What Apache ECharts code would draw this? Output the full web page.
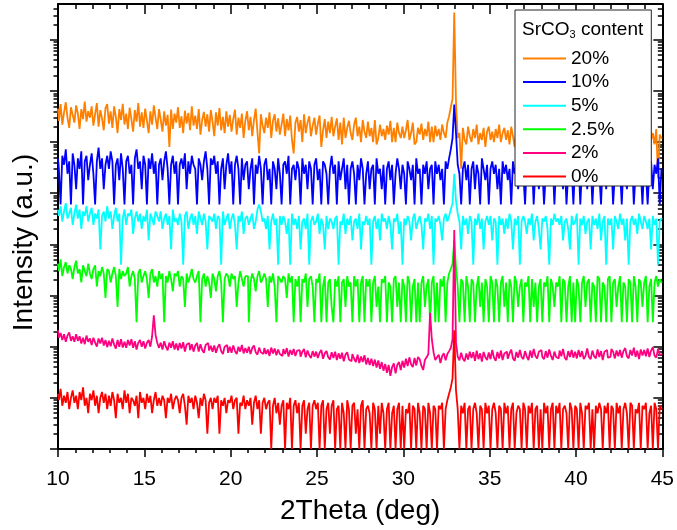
<!DOCTYPE html>
<html>
<head>
<meta charset="utf-8">
<script src="https://cdn.jsdelivr.net/npm/echarts@6/dist/echarts.min.js"></script>
<style>
html, body { margin: 0; padding: 0; background: #fff; }
#chart { width: 677px; height: 530px; }
</style>
</head>
<body>
<div id="chart"></div>
<script>
// XRD patterns, 2θ = 10.0° … 45.0° in 0.1° steps
const angleStart = 10;
const angleStep = 0.1;

const seriesNames = ['20%', '10%', '5%', '2.5%', '2%', '0%'];
const seriesColors = ['#FF8000', '#0000FF', '#00FFFF', '#00FF00', '#FF0080', '#FF0000'];
// vertical offset factors used to stack the patterns on the log scale
const offsets = [1e5, 6e4, 4e3, 300, 1, 1];

const counts20 = [
  45,26,55,22,38,60,30,19,48,34,
  24,52,36,18,44,28,62,25,40,30,
  50,21,35,58,20,42,29,17,46,55,
  23,40,19,50,31,15,44,27,56,22,
  36,18,47,28,16,42,25,58,20,38,
  19,45,26,15,40,22,52,30,18,44,
  27,16,40,21,34,8,43,18,36,24,
  48,19,32,15,41,23,37,17,50,21,
  33,18,44,14,27,39,20,35,16,42,
  25,13,38,21,46,17,31,15,40,20,
  34,16,28,43,14,30,19,36,12,26,
  40,17,31,13,27,45,16,6,35,21,
  15,30,19,38,12,26,35,16,29,14,
  22,36,13,28,17,33,11,6,24,31,
  16,27,10,35,15,24,32,13,21,30,
  14,23,33,8,17,28,12,25,15,31,
  13,20,29,11,24,9,30,12,19,26,
  15,11,22,30,13,20,10,27,16,12,
  25,13,19,10,27,9,12,22,13,18,
  11,21,14,26,10,19,10,24,15,12,
  20,12,17,27,11,15,24,9,10,19,
  14,23,11,18,13,25,10,20,10,21,
  13,18,11,22,15,12,24,32,48,70,
  3400,60,12,15,3,19,11,9,20,13,
  10,18,12,22,9,15,11,19,8,16,
  20,11,16,10,18,12,22,10,15,19,
  11,17,9,20,13,8,18,11,21,10,
  15,9,19,12,22,10,16,9,13,20,
  10,17,12,8,19,13,9,20,11,16,
  9,19,13,8,21,10,15,11,17,9,
  13,20,10,16,9,18,12,17,9,21,
  12,9,17,11,20,13,10,19,12,16,
  18,10,14,9,17,12,21,10,15,8,
  13,20,10,16,12,9,19,11,17,14,
  10,17,12,20,11,15,9,18,2,14,
  12
];

const counts10 = [
  8,5,1,9,6,12,4,7,1,10,
  6,2,8,5,11,1,7,9,3,6,
  10,4,1,7,13,5,8,2,6,9,
  5,11,7,1,6,8,3,10,5,1,
  7,9,4,6,1,8,12,5,7,2,
  9,6,1,8,5,10,4,7,1,6,
  8,3,7,11,5,1,6,9,4,7,
  1,6,8,5,10,2,7,4,9,6,
  5,1,8,6,3,7,11,5,1,8,
  6,9,4,7,1,5,8,2,6,10,
  4,7,1,6,9,5,1,8,3,6,
  7,2,5,8,1,6,4,9,5,1,
  6,8,3,5,1,7,5,2,8,4,
  1,6,7,4,9,1,5,6,3,7,
  5,1,8,4,6,2,7,5,1,6,
  8,3,5,1,7,6,4,1,5,9,
  4,6,1,7,3,5,8,2,6,1,
  5,7,4,1,6,3,8,5,1,4,
  7,2,5,6,1,8,4,5,2,6,
  1,5,7,3,6,1,4,8,5,2,
  6,4,1,7,5,3,6,1,8,4,
  5,1,6,4,7,2,5,6,1,7,
  4,6,3,5,1,7,5,8,12,20,
  90,25,6,4,1,5,7,3,6,1,
  5,7,2,6,4,1,8,5,3,6,
  1,5,7,4,6,2,5,1,7,4,
  6,3,5,1,7,4,6,2,5,8,
  4,1,6,5,3,7,1,5,6,2,
  7,5,1,4,6,3,5,7,1,6,
  3,6,5,2,7,1,4,6,5,1,
  6,4,7,1,5,3,6,2,5,7,
  1,5,3,6,4,1,7,5,2,6,
  5,7,1,4,6,3,5,1,6,4,
  2,6,5,7,1,4,6,3,5,1,
  6,4,1,5,7,2,6,4,8,1,
  5
];

const counts5 = [
  12,9,14,7,11,16,8,10,13,6,
  10,15,8,12,5,11,9,14,7,10,
  13,6,10,8,12,2,9,11,7,14,
  8,11,5,9,13,7,10,1,8,12,
  6,10,9,12,4,8,11,7,10,5,
  9,7,12,3,10,8,6,11,9,7,
  11,5,8,10,6,9,2,12,7,8,
  6,10,7,1,9,11,5,8,10,6,
  9,4,11,8,6,10,7,2,9,8,
  7,10,5,9,8,1,11,6,8,10,
  5,8,10,6,2,9,7,11,4,8,
  9,6,8,10,5,7,12,15,11,7,
  8,5,9,2,7,10,6,8,1,9,
  6,9,7,4,8,1,10,6,8,5,
  9,2,7,8,5,10,1,7,9,6,
  7,10,4,8,6,2,9,5,8,7,
  5,8,9,1,7,6,10,4,8,6,
  9,3,7,8,5,10,2,7,6,9,
  6,8,1,7,9,5,8,3,10,7,
  8,5,9,6,2,8,7,10,4,7,
  1,8,6,9,7,3,8,10,5,7,
  9,6,2,8,7,10,5,9,1,8,
  7,9,6,3,8,10,7,9,12,16,
  60,18,10,7,2,9,6,8,4,9,
  7,1,8,6,10,5,8,2,7,9,
  6,9,3,8,7,1,9,6,8,4,
  8,5,10,7,2,8,6,9,1,7,
  9,7,4,8,6,10,3,7,9,5,
  2,8,7,9,5,1,8,6,10,7,
  8,6,9,3,7,8,5,2,9,6,
  7,10,1,8,6,9,4,7,8,2,
  9,6,8,5,10,3,7,9,1,8,
  6,8,2,9,7,5,10,6,8,3,
  8,1,7,9,6,8,4,10,7,5,
  9,7,5,8,2,9,6,8,1,7,
  8
];

const counts2_5 = [
  14,10,17,8,12,15,9,13,11,7,
  12,16,9,11,6,13,10,8,14,9,
  7,11,13,5,10,8,12,9,3,11,
  10,6,9,12,8,2,11,7,10,8,
  9,12,5,8,10,7,1,9,11,6,
  8,10,7,3,9,11,6,8,5,10,
  7,9,1,8,6,10,7,4,9,8,
  10,5,8,7,2,9,6,8,11,7,
  6,8,10,1,7,9,5,8,6,3,
  9,7,4,8,10,6,1,7,9,8,
  5,9,7,8,2,6,10,7,5,8,
  8,1,6,9,7,4,8,10,6,7,
  9,7,2,8,6,9,5,1,8,7,
  6,8,7,3,9,6,8,1,7,5,
  8,1,7,6,9,2,7,8,5,1,
  7,6,9,1,5,8,1,6,7,2,
  1,7,5,8,1,6,7,2,8,5,
  6,1,8,5,7,1,6,8,1,7,
  5,7,1,6,8,2,5,1,7,6,
  8,1,6,5,1,7,8,2,6,1,
  7,5,1,8,6,1,5,7,1,6,
  1,6,8,2,5,7,1,6,8,1,
  6,1,7,5,8,1,6,9,11,14,
  40,12,5,1,7,6,1,8,5,1,
  7,6,1,5,8,2,6,1,7,5,
  1,8,6,1,7,5,1,6,8,2,
  6,1,7,5,1,8,6,2,5,7,
  1,6,5,8,1,7,2,6,1,5,
  7,1,6,5,8,1,7,5,2,6,
  5,8,1,7,6,1,5,8,1,6,
  1,7,5,1,6,8,2,6,7,1,
  6,5,1,8,7,1,6,5,1,7,
  8,1,6,7,2,5,8,1,6,5,
  1,7,6,1,8,5,1,7,6,2,
  6,8,1,5,7,1,6,8,5,7,
  6
];

const counts2 = [
  210,150,185,135,175,125,165,190,130,160,
  125,175,130,160,115,150,112,165,125,145,
  108,150,120,100,145,115,150,105,135,98,
  130,102,145,110,92,135,100,140,96,125,
  95,135,105,140,95,128,88,120,135,100,
  128,92,120,135,100,160,410,170,118,95,
  120,88,128,100,85,120,95,128,88,115,
  85,118,92,122,80,110,118,86,112,80,
  105,118,80,112,86,76,108,118,84,104,
  80,106,76,98,112,82,72,100,108,76,
  100,76,106,82,72,100,80,108,74,94,
  76,100,72,94,106,78,70,96,78,72,
  94,72,88,66,96,74,92,68,88,72,
  66,90,72,94,64,86,70,90,66,84,
  86,64,80,90,62,84,68,60,82,64,
  80,60,76,86,58,74,82,62,56,78,
  60,80,55,74,58,76,52,70,78,56,
  52,72,58,50,70,48,64,50,68,45,
  60,44,58,42,56,39,54,37,50,34,
  46,31,44,27,40,47,30,44,50,35,
  53,39,58,42,62,45,40,60,43,63,
  57,42,35,55,62,72,460,140,78,55,
  62,70,48,66,74,54,72,82,95,140,
  19000,120,64,54,76,58,52,74,56,80,
  60,78,53,84,57,74,51,79,62,55,
  77,57,86,61,53,79,59,84,55,74,
  80,58,74,88,59,53,79,61,86,63,
  57,82,64,55,84,61,90,66,59,80,
  86,63,57,82,61,88,66,55,80,63,
  59,84,65,90,61,55,82,63,86,61,
  80,59,86,63,82,57,66,92,63,57,
  84,65,59,88,63,82,55,80,86,61,
  63,90,80,59,84,65,86,61,82,94,
  65,59,86,67,96,63,84,57,88,67,
  86,65,92,63,84,98,67,61,90,69,
  72
];

const counts0 = [
  12,9,15,7,11,8,13,6,10,14,
  8,11,6,13,9,16,7,10,5,12,
  9,14,7,11,5,10,13,8,12,6,
  11,7,13,9,4,12,8,10,6,14,
  8,12,5,10,9,7,11,4,13,8,
  10,6,12,8,11,5,9,13,7,10,
  7,11,9,4,10,8,12,6,9,11,
  9,5,10,12,7,3,11,8,10,6,
  11,8,4,10,7,12,9,2,8,10,
  6,10,8,11,2,9,7,10,5,9,
  8,11,6,9,10,2,8,7,11,6,
  9,7,10,3,8,11,6,9,2,8,
  10,6,8,9,1,7,10,5,8,3,
  7,9,1,8,6,10,1,7,9,5,
  8,1,7,9,2,6,8,1,7,9,
  6,8,1,7,9,1,6,8,2,7,
  9,1,6,7,1,8,5,1,9,6,
  1,7,8,2,6,1,7,9,1,6,
  7,5,1,8,6,1,7,2,8,5,
  1,6,8,1,5,7,1,6,8,1,
  7,1,6,5,8,1,7,6,1,8,
  5,1,7,6,1,8,5,1,7,6,
  1,7,6,8,1,6,9,12,16,24,
  210,14,6,1,7,5,8,1,6,7,
  1,6,8,5,1,7,6,1,8,5,
  7,1,6,8,5,1,7,6,1,8,
  5,7,1,6,8,1,5,7,6,1,
  8,6,1,7,5,8,1,6,7,1,
  6,1,8,5,7,1,6,8,1,7,
  5,8,1,6,7,5,1,8,6,1,
  7,6,1,8,5,1,7,6,8,1,
  6,1,7,5,8,6,1,7,5,8,
  1,7,6,1,8,5,7,1,6,8,
  5,1,8,7,1,6,5,8,1,7,
  6,8,1,5,7,1,8,6,1,7,
  6
];

const patternCounts = [counts20, counts10, counts5, counts2_5, counts2, counts0];

// x-axis tick labels and log-axis range
const xTickLabels = ['10', '15', '20', '25', '30', '35', '40', '45'];
const yMin = 1;
const yMax = 5e8;
const decadeTicks = [1, 10, 100, 1e3, 1e4, 1e5, 1e6, 1e7, 1e8];
const minorTicks = [];
decadeTicks.forEach(d => {
  for (let k = 2; k <= 9; k++) {
    if (d * k < yMax) minorTicks.push(d * k);
  }
});

const FONT = "'Liberation Sans', Arial, Helvetica, sans-serif";

// each pattern is drawn as a stepped trace so the sharp count drops read as vertical strokes
const series = patternCounts.map((arr, s) => ({
  name: seriesNames[s],
  type: 'line',
  step: 'middle',
  xAxisIndex: 0,
  yAxisIndex: 0,
  showSymbol: false,
  symbol: 'none',
  clip: true,
  color: seriesColors[s],
  lineStyle: { width: 1.8, color: seriesColors[s] },
  data: arr.map((c, i) => [+(angleStart + i * angleStep).toFixed(1), c * offsets[s]])
}));

function logAxis(position, ticks, len, inside, showLine) {
  return {
    type: 'log',
    logBase: 10,
    position: position,
    min: yMin,
    max: yMax,
    axisLine: { show: showLine, onZero: false, lineStyle: { color: '#000', width: 2 } },
    axisTick: { show: true, inside: inside, length: len, customValues: ticks,
                lineStyle: { color: '#000', width: 1.5 } },
    axisLabel: { show: false },
    splitLine: { show: false },
    minorTick: { show: false },
    minorSplitLine: { show: false }
  };
}

const chart = echarts.init(document.getElementById('chart'), null, { renderer: 'canvas' });
chart.setOption({
  animation: false,
  backgroundColor: '#fff',
  grid: { left: 58, right: 14, top: 4, bottom: 81, containLabel: false },
  title: {
    text: 'SrCO{sub|3} content',
    left: 522,
    top: 20,
    padding: 0,
    textStyle: {
      fontFamily: FONT, fontSize: 19, fontWeight: 'normal', color: '#000',
      rich: {
        sub: { fontFamily: FONT, fontSize: 11, color: '#000', verticalAlign: 'bottom', padding: [9, 0, 0, 0] }
      }
    }
  },
  legend: {
    data: seriesNames,
    orient: 'vertical',
    left: 515,
    top: 10,
    padding: [39, 37, 0, 8],
    itemGap: 4.6,
    itemWidth: 43,
    itemHeight: 2,
    icon: 'rect',
    selectedMode: false,
    backgroundColor: '#fff',
    borderColor: '#222',
    borderWidth: 1,
    textStyle: { fontFamily: FONT, fontSize: 19, color: '#000', padding: [0, 0, 0, 0] }
  },
  xAxis: [
    {
      type: 'value', position: 'bottom', min: 10, max: 45, interval: 5,
      axisLine: { show: true, onZero: false, lineStyle: { color: '#000', width: 2 } },
      axisTick: { show: true, inside: false, length: 8, lineStyle: { color: '#000', width: 1.5 } },
      minorTick: { show: true, splitNumber: 5, length: 4, lineStyle: { color: '#000', width: 1.5 } },
      axisLabel: {
        show: true, margin: 20, fontFamily: FONT, fontSize: 21, color: '#000',
        formatter: v => xTickLabels[Math.round((v - 10) / 5)]
      },
      splitLine: { show: false },
      minorSplitLine: { show: false },
      name: '2Theta (deg)', nameLocation: 'middle', nameGap: 48,
      nameTextStyle: { fontFamily: FONT, fontSize: 28, color: '#000' }
    },
    {
      type: 'value', position: 'top', min: 10, max: 45, interval: 5,
      axisLine: { show: true, onZero: false, lineStyle: { color: '#000', width: 2 } },
      axisTick: { show: true, inside: true, length: 10, lineStyle: { color: '#000', width: 1.5 } },
      minorTick: { show: true, splitNumber: 5, length: 5, lineStyle: { color: '#000', width: 1.5 } },
      axisLabel: { show: false },
      splitLine: { show: false },
      minorSplitLine: { show: false }
    }
  ],
  yAxis: [
    Object.assign(logAxis('left', decadeTicks, 8, false, true), {
      name: 'Intensity (a.u.)', nameLocation: 'middle', nameGap: 20,
      nameTextStyle: { fontFamily: FONT, fontSize: 28, color: '#000', padding: [0, 32, 0, 0] }
    }),
    logAxis('left', minorTicks, 4.5, false, false),
    logAxis('right', decadeTicks, 9, true, true),
    logAxis('right', minorTicks, 4.5, true, false)
  ],
  series: series
});
</script>
</body>
</html>
